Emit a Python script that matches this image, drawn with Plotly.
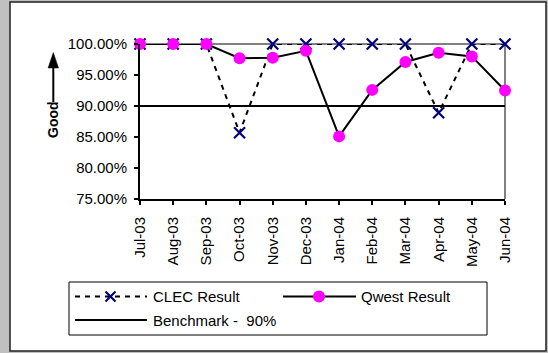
import plotly.graph_objects as go

months = ["Jul-03", "Aug-03", "Sep-03", "Oct-03", "Nov-03", "Dec-03",
          "Jan-04", "Feb-04", "Mar-04", "Apr-04", "May-04", "Jun-04"]
clec = [100.0, 100.0, 100.0, 85.7, 100.0, 100.0, 100.0, 100.0, 100.0, 88.9, 100.0, 100.0]
qwest = [100.0, 100.0, 100.0, 97.7, 97.8, 98.9, 85.1, 92.6, 97.1, 98.6, 98.0, 92.5]
benchmark = [90.0] * len(months)
y_ticks = [75, 80, 85, 90, 95, 100]
y_tick_labels = ["75.00%", "80.00%", "85.00%", "90.00%", "95.00%", "100.00%"]

W, H = 548, 353
L, R, T, B = 140, 43, 44, 154
PW, PH = W - L - R, H - T - B


def px(x):
    return (x - L) / PW


def py(y):
    return (H - B - y) / PH


xs = list(range(len(months)))
FONT = "Liberation Sans, Arial, sans-serif"

fig = go.Figure()
fig.add_trace(go.Scatter(x=xs, y=benchmark, mode="lines",
                         line=dict(color="black", width=2), cliponaxis=False,
                         name="Benchmark -  90%", showlegend=False))
fig.add_trace(go.Scatter(x=xs, y=clec, mode="lines+markers",
                         line=dict(color="black", width=2, dash="5px,5px"),
                         marker=dict(symbol="x-thin", size=11, color="#000080",
                                     line=dict(color="#000080", width=2.2)),
                         cliponaxis=False, name="CLEC Result", showlegend=False))
fig.add_trace(go.Scatter(x=xs, y=qwest, mode="lines+markers",
                         line=dict(color="black", width=2),
                         marker=dict(symbol="circle", size=12, color="#FF00FF",
                                     line=dict(width=0)),
                         cliponaxis=False, name="Qwest Result", showlegend=False))

shapes = [
    # white chart area
    dict(type="rect", xref="paper", yref="paper", x0=px(10), x1=px(546), y0=py(2), y1=py(351),
         fillcolor="white", line=dict(color="#202020", width=1.5), layer="below"),
    # gray top / right plot borders
    dict(type="line", xref="paper", yref="paper", x0=0, x1=1, y0=1, y1=1,
         line=dict(color="#808080", width=2), layer="below"),
    dict(type="line", xref="paper", yref="paper", x0=1, x1=1, y0=0, y1=1,
         line=dict(color="#808080", width=2), layer="below"),
    # legend box
    dict(type="rect", xref="paper", yref="paper", x0=px(69), x1=px(487), y0=py(282), y1=py(335),
         fillcolor="white", line=dict(color="black", width=1)),
    # legend CLEC dashed line
    dict(type="line", xref="paper", yref="paper", x0=px(75), x1=px(147), y0=py(296.5), y1=py(296.5),
         line=dict(color="black", width=2, dash="5px,5px")),
    # legend CLEC X marker
    dict(type="line", xref="paper", yref="paper", x0=px(105.5), x1=px(115.5), y0=py(291.5), y1=py(301.5),
         line=dict(color="#000080", width=2.2)),
    dict(type="line", xref="paper", yref="paper", x0=px(105.5), x1=px(115.5), y0=py(301.5), y1=py(291.5),
         line=dict(color="#000080", width=2.2)),
    # legend Qwest line + circle
    dict(type="line", xref="paper", yref="paper", x0=px(283), x1=px(356), y0=py(296.5), y1=py(296.5),
         line=dict(color="black", width=2)),
    dict(type="circle", xref="paper", yref="paper", x0=px(313), x1=px(325), y0=py(290.5), y1=py(302.5),
         fillcolor="#FF00FF", line=dict(width=0)),
    # legend benchmark line
    dict(type="line", xref="paper", yref="paper", x0=px(75), x1=px(147), y0=py(320), y1=py(320),
         line=dict(color="black", width=2)),
    # "Good" arrow shaft + head
    dict(type="line", xref="paper", yref="paper", x0=px(53.3), x1=px(53.3), y0=py(66), y1=py(102),
         line=dict(color="black", width=2)),
    dict(type="path", xref="paper", yref="paper",
         path=f"M {px(53.3)} {py(52.5)} L {px(58.5)} {py(68)} L {px(48.1)} {py(68)} Z",
         fillcolor="black", line=dict(color="black", width=0.5)),
]

annotations = [
    dict(xref="paper", yref="paper", x=px(151), y=py(296.5), text="CLEC Result", showarrow=False,
         xanchor="left", yanchor="middle", font=dict(size=15, color="black", family=FONT)),
    dict(xref="paper", yref="paper", x=px(359), y=py(296.5), text="Qwest Result", showarrow=False,
         xanchor="left", yanchor="middle", font=dict(size=15, color="black", family=FONT)),
    dict(xref="paper", yref="paper", x=px(151), y=py(320), text="Benchmark -  90%", showarrow=False,
         xanchor="left", yanchor="middle", font=dict(size=15, color="black", family=FONT)),
    dict(xref="paper", yref="paper", x=px(53), y=py(120), text="<b>Good</b>", showarrow=False,
         textangle=-90, xanchor="center", yanchor="middle",
         font=dict(size=14, color="black", family=FONT)),
]

fig.update_layout(
    width=W, height=H,
    margin=dict(l=L, r=R, t=T, b=B, pad=0),
    paper_bgcolor="#C0C0C0",
    plot_bgcolor="white",
    font=dict(family=FONT, size=15, color="black"),
    showlegend=False,
    shapes=shapes,
    annotations=annotations,
    xaxis=dict(range=[0, len(months) - 1], tickvals=xs, ticktext=months, tickangle=-90,
               showgrid=False, zeroline=False, showline=True, linecolor="black", linewidth=2,
               ticks="outside", ticklen=4, tickwidth=1.5, tickcolor="black",
               ticklabelstandoff=6, tickfont=dict(size=15)),
    yaxis=dict(range=[75, 100], tickvals=y_ticks, ticktext=y_tick_labels,
               showgrid=False, zeroline=False, showline=True, linecolor="black", linewidth=2,
               ticks="outside", ticklen=4, tickwidth=1.5, tickcolor="black",
               ticklabelstandoff=4, tickfont=dict(size=15)),
)

fig.write_html("out.html", config={"displayModeBar": False},
               post_script="document.body.style.margin='0';document.body.style.background='#C0C0C0';")
